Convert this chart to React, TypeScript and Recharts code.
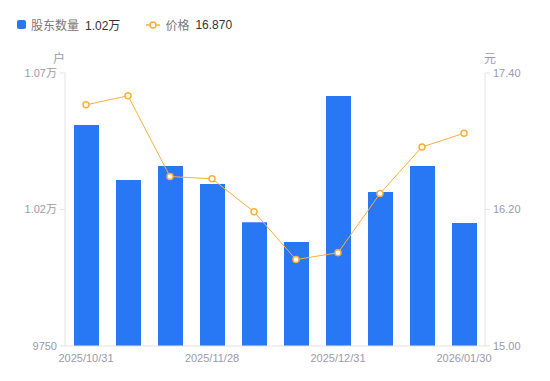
import { ComposedChart, Bar, Line, XAxis, YAxis } from "recharts";

// 日期、股东户数、股价
const dates = [
  "2025/10/31", "2025/11/14", "2025/11/20", "2025/11/28", "2025/12/10",
  "2025/12/19", "2025/12/31", "2026/01/09", "2026/01/20", "2026/01/30",
];
const holders = [10519, 10328, 10376, 10314, 10181, 10112, 10620, 10286, 10376, 10178];
const prices = [17.12, 17.2, 16.49, 16.47, 16.18, 15.76, 15.82, 16.34, 16.75, 16.87];
const leftTicks = [9750, 10225, 10700];
const rightTicks = [15.0, 16.2, 17.4];

const BLUE = "#2878f5";
const ORANGE = "#fbb03b";
const AXIS = "#e3e3e8";
const LABEL = "#9a9aab";
const FONT = "'Liberation Sans', 'Noto Sans CJK SC', sans-serif";

const data = dates.map((d, i) => ({ date: d, holders: holders[i], price: prices[i] }));

const fmtHolders = (v: number) => (v >= 10000 ? `${(v / 10000).toFixed(2)}万` : `${v}`);

export default function App() {
  return (
    <div style={{ position: "absolute", left: 0, top: 0, width: 550, height: 381, fontFamily: FONT, background: "#fff" }}>
      {/* 图例 */}
      <div style={{ position: "absolute", top: 16, left: 17, display: "flex", alignItems: "center", fontSize: 12 }}>
        <span style={{ width: 9, height: 9, background: BLUE, borderRadius: 2, display: "inline-block" }} />
        <span style={{ color: "#777", marginLeft: 5 }}>股东数量</span>
        <span style={{ color: "#333", marginLeft: 6 }}>1.02万</span>
        <svg width={14} height={10} style={{ marginLeft: 26 }}>
          <line x1={0} y1={5} x2={14} y2={5} stroke={ORANGE} strokeWidth={1.5} />
          <circle cx={7} cy={5} r={3} fill="#fff" stroke={ORANGE} strokeWidth={1.5} />
        </svg>
        <span style={{ color: "#777", marginLeft: 5 }}>价格</span>
        <span style={{ color: "#333", marginLeft: 6 }}>16.870</span>
      </div>
      <div style={{ position: "absolute", top: 49, left: 53, fontSize: 12, color: LABEL }}>户</div>
      <div style={{ position: "absolute", top: 49, left: 484, fontSize: 12, color: LABEL }}>元</div>
      <ComposedChart
        width={550}
        height={381}
        data={data}
        margin={{ top: 73, right: 15, left: 15, bottom: 5 }}
        style={{ position: "absolute", left: 0, top: 0 }}
      >
        <XAxis
          dataKey="date"
          interval={2}
          tickLine={false}
          stroke={AXIS}
          tick={{ fill: LABEL, fontSize: 11, fontFamily: FONT }}
          height={30}
          tickMargin={2}
        />
        <YAxis
          yAxisId="left"
          orientation="left"
          width={50}
          domain={[9750, 10700]}
          ticks={leftTicks}
          tickFormatter={fmtHolders}
          stroke={AXIS}
          tickSize={5}
          tickMargin={3}
          tick={{ fill: LABEL, fontSize: 11, fontFamily: FONT }}
          allowDataOverflow
        />
        <YAxis
          yAxisId="right"
          orientation="right"
          width={50}
          domain={[15, 17.4]}
          ticks={rightTicks}
          tickFormatter={(v: number) => v.toFixed(2)}
          stroke={AXIS}
          tickSize={5}
          tickMargin={3}
          tick={{ fill: LABEL, fontSize: 11, fontFamily: FONT }}
          allowDataOverflow
        />
        <Bar
          yAxisId="left"
          dataKey="holders"
          fill={BLUE}
          barSize={25}
          isAnimationActive={false}
        />
        <Line
          yAxisId="right"
          dataKey="price"
          type="linear"
          stroke={ORANGE}
          strokeWidth={1}
          dot={{ r: 3, fill: "#fff", stroke: ORANGE, strokeWidth: 1.5 }}
          activeDot={false}
          isAnimationActive={false}
        />
      </ComposedChart>
    </div>
  );
}
